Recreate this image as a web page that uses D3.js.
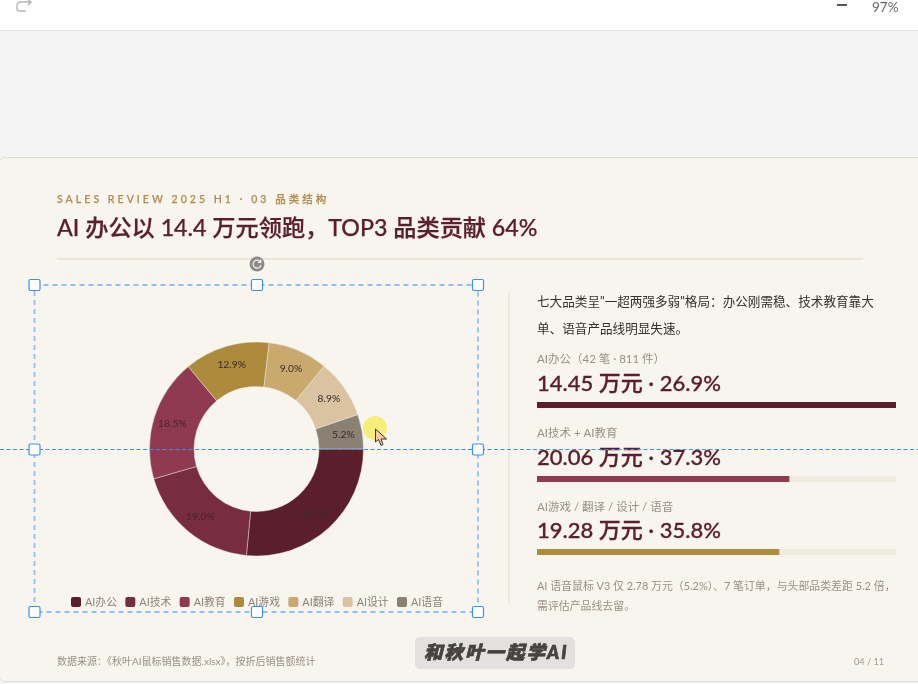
<!DOCTYPE html>
<html><head><meta charset="utf-8">
<script src="https://cdn.jsdelivr.net/npm/d3@7"></script>
<style>
html,body{margin:0;padding:0;background:#fff;overflow:hidden}
svg{display:block;filter:blur(.3px)}
text{font-family:Lato,"Noto Sans CJK SC",sans-serif}
</style></head><body>
<svg id="c" width="918" height="684"></svg>
<script>
const categories=["AI办公","AI技术","AI教育","AI游戏","AI翻译","AI设计","AI语音"];
const shares=[26.5,19.0,18.5,12.9,9.0,8.9,5.2];
const colors=["#5a1e2d","#772d3f","#8f3a50","#ae8a3c","#c9a96e","#dac3a1","#8a8073"];
const groupLabels=["AI办公（42 笔 · 811 件）","AI技术 + AI教育","AI游戏 / 翻译 / 设计 / 语音"];
const groupValues=["14.45 万元 · 26.9%","20.06 万元 · 37.3%","19.28 万元 · 35.8%"];
const groupFill=[1,0.703,0.675];
const groupColors=["#5a1e2d","#8f3a50","#b08d3e"];

const svg=d3.select("#c");
const T=(x,y,s,size,fill,extra={})=>{
  const t=svg.append("text").attr("x",x).attr("y",y).attr("font-size",size).attr("fill",fill).text(s);
  Object.entries(extra).forEach(([k,v])=>t.attr(k,v));
  return t;
};
// page chrome
svg.append("rect").attr("width",918).attr("height",684).attr("fill","#f4f4f4");
svg.append("rect").attr("width",918).attr("height",30).attr("fill","#fff");
svg.append("line").attr("x1",0).attr("x2",918).attr("y1",30.5).attr("y2",30.5).attr("stroke","#e2e2e2");
svg.append("path").attr("d","M31 2 H21 Q17 2 17 6 V9 Q17 11 20 11 H26 M28 0 L31 2 L28 5").attr("fill","none").attr("stroke","#b9b5b5").attr("stroke-width",1.4);
svg.append("rect").attr("x",837).attr("y",4).attr("width",10).attr("height",2).attr("fill","#555");
T(872,12,"97%",13.5,"#666");
// card
svg.append("rect").attr("x",-1).attr("y",157.5).attr("width",925).attr("height",524).attr("rx",6).attr("fill","#f8f5ef").attr("stroke","#dcdcda");
// header
T(57,203,"SALES REVIEW 2025 H1 · 03 品类结构",10.5,"#b08d4f",{"letter-spacing":3.05,"font-weight":500,"stroke":"#b08d4f","stroke-width":.25});
T(57,236,"AI 办公以 14.4 万元领跑，TOP3 品类贡献 64%",23.2,"#5a1e2d",{"font-weight":500,"stroke":"#5a1e2d","stroke-width":.25});
svg.append("line").attr("x1",57).attr("x2",863).attr("y1",259).attr("y2",259).attr("stroke","#ddd3c1").attr("stroke-width",1.2);
// donut
const cx=256.5,cy=449,R=107,r=62.5,labelR=88;
const pie=d3.pie().sort(null).value(d=>d).startAngle(Math.PI/2).endAngle(Math.PI*2.5);
const arcs=pie(shares);
const arc=d3.arc().innerRadius(r).outerRadius(R);
const labelArc=d3.arc().innerRadius(labelR).outerRadius(labelR);
const g=svg.append("g").attr("transform",`translate(${cx},${cy})`);
g.selectAll("path").data(arcs).join("path").attr("d",arc).attr("fill",(d,i)=>colors[i]).attr("stroke","#f8f5ef").attr("stroke-width",.4);
g.selectAll("text").data(arcs).join("text")
 .attr("transform",d=>`translate(${labelArc.centroid(d)})`).attr("text-anchor","middle").attr("dy","0.35em")
 .attr("font-size",10.3).attr("fill","#3a2a2c").attr("font-family","'Open Sans',sans-serif")
 .text(d=>d3.format(".1f")(d.data)+"%");
// legend
const legendX=d3.scalePoint().domain(categories).range([71,397]);
const lg=svg.append("g").selectAll("g").data(categories).join("g").attr("transform",d=>`translate(${legendX(d)},597)`);
lg.append("rect").attr("width",10).attr("height",10).attr("rx",2).attr("fill",(d,i)=>colors[i]);
lg.append("text").attr("x",14).attr("y",9.3).attr("font-size",10.8).attr("fill","#8c8178").text(d=>d);
// right column
svg.append("line").attr("x1",509).attr("x2",509).attr("y1",293).attr("y2",604).attr("stroke","#ebe5d9").attr("stroke-width",1.5);
T(537,306,"七大品类呈\"一超两强多弱\"格局：办公刚需稳、技术教育靠大",12.6,"#33302e");
T(537,332.5,"单、语音产品线明显失速。",12.6,"#33302e");
const barX=d3.scaleLinear().domain([0,1]).range([537,896]);
const labelY=[362.5,436.5,510.5],valueY=[391,464.5,538],barY=[402,476,549];
groupLabels.forEach((s,i)=>{
  T(537,labelY[i],s,11.5,"#9a8f85");
  T(537,valueY[i],groupValues[i],22,"#5a1e2d",{"font-weight":500,"stroke":"#5a1e2d","stroke-width":.3});
  svg.append("rect").attr("x",barX(0)).attr("y",barY[i]).attr("width",barX(1)-barX(0)).attr("height",6).attr("fill","#f0ebdf");
  svg.append("rect").attr("x",barX(0)).attr("y",barY[i]).attr("width",barX(groupFill[i])-barX(0)).attr("height",6).attr("fill",groupColors[i]);
});
T(537,590,"AI 语音鼠标 V3 仅 2.78 万元（5.2%）、7 笔订单，与头部品类差距 5.2 倍，",10.9,"#9a8f85");
T(537,610,"需评估产品线去留。",10.9,"#9a8f85");
// footer
T(57,665,"数据来源：《秋叶AI鼠标销售数据.xlsx》，按折后销售额统计",10,"#9a8f85");
T(854,665,"04 / 11",9.2,"#a39a90");
svg.append("rect").attr("x",415).attr("y",637).attr("width",160).attr("height",32).attr("rx",5).attr("fill","#e2e1df");
T(424,659,"和秋叶一起学AI",18.5,"#47423f",{"font-weight":900,"font-style":"italic","letter-spacing":2,"stroke":"#47423f","stroke-width":.7});
// selection frame
const blue="#3d8fee";
svg.append("rect").attr("x",34.5).attr("y",285).attr("width",443.5).attr("height",327).attr("fill","none").attr("stroke","#8fc0f5").attr("stroke-dasharray","5 4").attr("stroke-width",1.8);
svg.append("line").attr("x1",0).attr("x2",918).attr("y1",449.5).attr("y2",449.5).attr("stroke",blue).attr("stroke-dasharray","4 2.5").attr("stroke-width",1);
[[34.5,285],[257,285],[478,285],[34.5,449.5],[478,449.5],[34.5,612],[257,612],[478,612]].forEach(p=>{
  svg.append("rect").attr("x",p[0]-5.5).attr("y",p[1]-5.5).attr("width",11).attr("height",11).attr("rx",1.5).attr("fill","#fff").attr("stroke",blue).attr("stroke-width",1.2);
});
svg.append("circle").attr("cx",257).attr("cy",264).attr("r",7.5).attr("fill","#8f8a8a");
svg.append("path").attr("d","M260.5 262 A4 4 0 1 0 261 265 M260.7 259.6 V262.4 H258").attr("fill","none").attr("stroke","#f2f0ee").attr("stroke-width",1.2);
// cursor
svg.append("circle").attr("cx",375).attr("cy",428).attr("r",12).attr("fill","#f5ef7a");
svg.append("path").attr("d","M375.5 429 L375.5 442 L378.5 439.5 L381 445.5 L383 444.5 L381 439 L386.5 439 Z").attr("fill","#f0c9a0").attr("stroke","#2b1d1d").attr("stroke-width",.9);
</script>
</body></html>
